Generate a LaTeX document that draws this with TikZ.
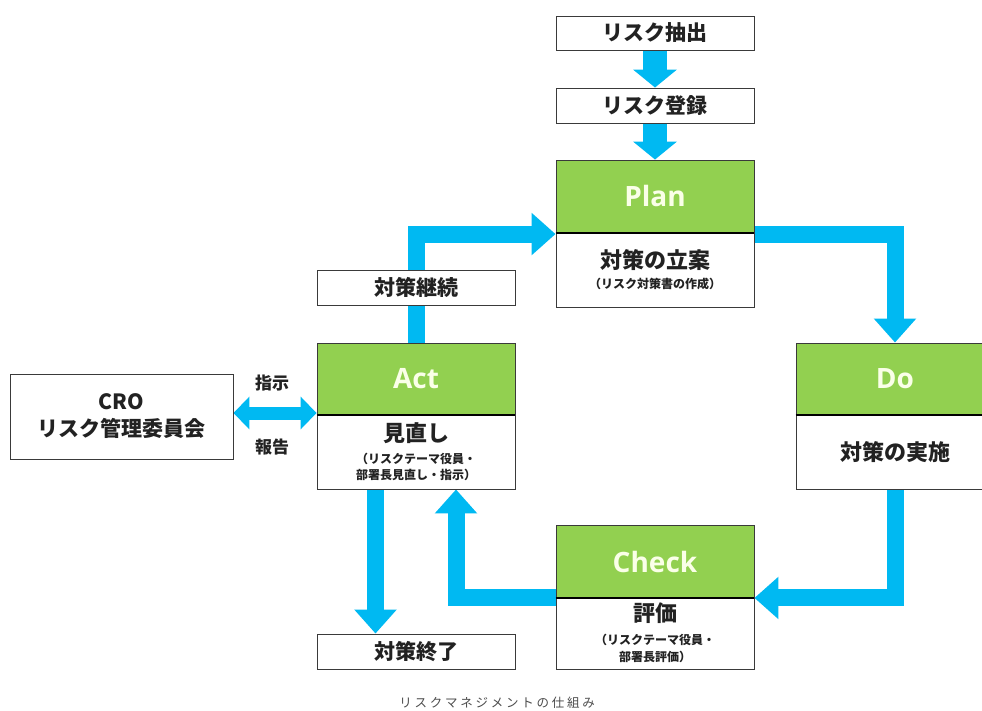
\documentclass[tikz,border=0pt]{standalone}
\usepackage{fontspec}
\newfontfamily\jp{Noto Sans CJK JP}
\newfontfamily\latinbold{Open Sans}[BoldFont={* Bold}]
\usetikzlibrary{arrows.meta,backgrounds,calc}
\definecolor{pdcagreen}{HTML}{92D050}
\definecolor{pdcatext}{HTML}{FAFFE8}
\definecolor{flowblue}{HTML}{00B9F2}
\definecolor{ink}{HTML}{222222}
\definecolor{edge}{HTML}{3A3A3A}
\tikzset{
  box/.style={draw=edge, line width=0.9pt, fill=white, text=ink, inner sep=0pt,
    minimum width=198pt, font=\jp\bfseries\fontsize{21}{24}\selectfont},
  headbox/.style={draw=edge, line width=0.9pt, fill=pdcagreen, text=pdcatext, inner sep=0pt,
    minimum width=198pt, font=\latinbold\bfseries\fontsize{28}{32}\selectfont},
  bodybox/.style={box, align=center, font=\jp\bfseries\fontsize{12}{16}\selectfont},
  divider/.style={draw=black, line width=2pt},
  flow/.style={draw=flowblue, line width=17pt, line join=miter, line cap=butt,
    -{Triangle[length=24pt,width=41pt]}},
  flowtop/.style={draw=flowblue, line width=24pt, line cap=butt,
    -{Triangle[length=18pt,width=43pt]}},
  flowboth/.style={draw=flowblue, line width=13pt, line cap=butt,
    {Triangle[length=16pt,width=32pt]}-{Triangle[length=16pt,width=32pt]}},
  lbl/.style={text=ink, font=\jp\bfseries\fontsize{17}{20}\selectfont}
}
\newcommand{\mainline}[1]{{\fontsize{22}{26}\selectfont #1}}
\begin{document}
\begin{tikzpicture}[x=1pt,y=-1pt]
\useasboundingbox (0,0) rectangle (982,711);
\begin{scope}[on background layer]
  \fill[white] (0,0) rectangle (982,711);
\end{scope}

% top boxes
\node[box, minimum height=34pt] (extract) at (655,33) {リスク抽出};
\node[box, minimum height=35pt] (register) at (655,105.5) {リスク登録};

% Plan
\node[headbox, minimum height=73pt] (plan) at (655,196.5) {Plan};
\node[bodybox, minimum height=74pt] (planB) at (655,270)
  {\mainline{対策の立案}\\[4pt]（リスク対策書の作成）};
\draw[divider] (plan.south west) -- (plan.south east);

% Do
\node[headbox, minimum height=72pt] (do) at (895,379) {Do};
\node[bodybox, minimum height=74pt] (doB) at (895,452) {\mainline{対策の実施}};
\draw[divider] (do.south west) -- (do.south east);

% Check
\node[headbox, minimum height=73pt] (check) at (655,561.5) {Check};
\node[bodybox, minimum height=72pt] (checkB) at (655,633)
  {\mainline{評価}\\[7pt]（リスクテーマ役員・\\[1pt]部署長評価）};
\draw[divider] (check.south west) -- (check.south east);

% Act
\node[headbox, minimum height=72pt] (act) at (416,379) {Act};
\node[bodybox, minimum height=74pt] (actB) at (416,452)
  {\mainline{見直し}\\[6pt]（リスクテーマ役員・\\部署長見直し・指示）};
\draw[divider] (act.south west) -- (act.south east);

% side boxes
\node[box, minimum height=35pt] (keep) at (416,287.5) {対策継続};
\node[box, minimum height=35pt] (finish) at (416,651.5) {対策終了};
\node[box, minimum width=223pt, minimum height=85pt, align=center,
      font=\jp\bfseries\fontsize{21}{27}\selectfont] (cro) at (121.5,416.5)
  {CRO\\リスク管理委員会};

\node[lbl] (shiji) at (272,383) {指示};
\node[lbl] (hokoku) at (272,447) {報告};

\node[text=black!70, font=\jp\fontsize{12.5}{14}\selectfont] (caption) at (497,703)
  {\addfontfeature{LetterSpace=22}リスクマネジメントの仕組み};

% connectors
\coordinate (upEnd) at ($(actB.south)+(40,0)$);
\coordinate (downStart) at ($(actB.south)+(-40.5,0)$);
\coordinate (croMid) at ($(cro.east)+(0,-3.5)$);
\begin{scope}[on background layer]
  \draw[flowtop] (extract.south) -- (register.north);
  \draw[flowtop] (register.south) -- (plan.north);
  \draw[flow] ($(planB.north east)+(0,1.5)$) -| (do.north);
  \draw[flow] (doB.south) |- ($(check.south east)+(0,-0.5)$);
  \draw[flow] ($(check.south west)+(0,-0.5)$) -| (upEnd);
  \draw[flow] (downStart) -- (downStart |- finish.north);
  \draw[flow] (act.north) |- ($(planB.north west)+(0,1.5)$);
  \draw[flowboth] (croMid) -- (croMid -| act.west);
\end{scope}
\end{tikzpicture}
\end{document}
